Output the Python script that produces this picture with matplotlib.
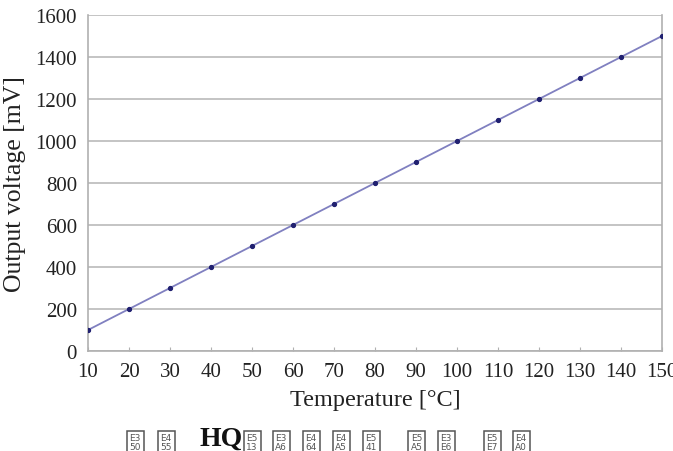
import matplotlib
matplotlib.use("Agg")
import matplotlib.pyplot as plt
from matplotlib.patches import Rectangle

temperature = [10, 20, 30, 40, 50, 60, 70, 80, 90, 100, 110, 120, 130, 140, 150]
voltage_mv = [100, 200, 300, 400, 500, 600, 700, 800, 900, 1000, 1100, 1200, 1300, 1400, 1500]
x_ticks = [10, 20, 30, 40, 50, 60, 70, 80, 90, 100, 110, 120, 130, 140, 150]
y_ticks = [0, 200, 400, 600, 800, 1000, 1200, 1400, 1600]

# caption: missing-glyph boxes (hex bytes) around "HQ"
caption_left = ["E3\n50", "E4\n55"]
caption_mid = "HQ"
caption_right = ["E5\n13", "E3\nA6", "E4\n64", "E4\nA5", "E5\n41", "E5\nA5", "E3\nE6", "E5\nE7", "E4\nA0"]
left_pos = [135, 166]
right_pos = [252, 281, 311, 341, 371, 417, 446, 492, 521]

plt.rcParams['font.family'] = ['Liberation Serif', 'DejaVu Serif']

fig = plt.figure(figsize=(6.73, 4.52), dpi=100)
ax = fig.add_axes([88/673, 1-352/452, (662-88)/673, (352-16)/452])

ax.plot(temperature, voltage_mv, color='#8080c0', lw=1.3, zorder=3)
ax.plot(temperature, voltage_mv, ls='none', marker='o', ms=2.8, color='#202070', zorder=4)

ax.set_xlim(10, 150)
ax.set_ylim(0, 1600)
ax.set_xticks(x_ticks)
ax.set_yticks(y_ticks)
ax.grid(axis='y', color='#c4c4c4', lw=1.4)
ax.set_axisbelow(True)
for s in ['left', 'bottom', 'right']:
    ax.spines[s].set_color('#b0b0b0')
    ax.spines[s].set_linewidth(1.2)
ax.spines['top'].set_visible(False)
ax.tick_params(axis='x', direction='in', length=3, color='#b0b0b0', labelsize=15, pad=8, labelcolor='#222222')
ax.tick_params(axis='y', length=0, labelsize=15, pad=8, labelcolor='#222222')
ax.set_xlabel('Temperature [°C]', fontsize=17.5, color='#222222', labelpad=6)
ax.set_ylabel('Output voltage [mV]', fontsize=18.5, color='#222222', labelpad=7)

def box(xc, code):
    w, h = 17, 24
    top = 432
    fig.patches.append(Rectangle(((xc - w/2)/673, 1-(top + h)/452), w/673, h/452,
                                 transform=fig.transFigure, fc='white', ec='#555555', lw=1.1))
    fig.text(xc/673, 1-(top + 11)/452, code, fontsize=6.5, family='DejaVu Sans', color='#555555',
             ha='center', va='center', linespacing=1.0)

for xp, c in zip(left_pos, caption_left):
    box(xp, c)
fig.text(221/673, 1-439/452, caption_mid, fontsize=20, fontweight='bold', ha='center', va='center', color='#111111')
for xp, c in zip(right_pos, caption_right):
    box(xp, c)
fig.savefig('out.png', dpi=100)
